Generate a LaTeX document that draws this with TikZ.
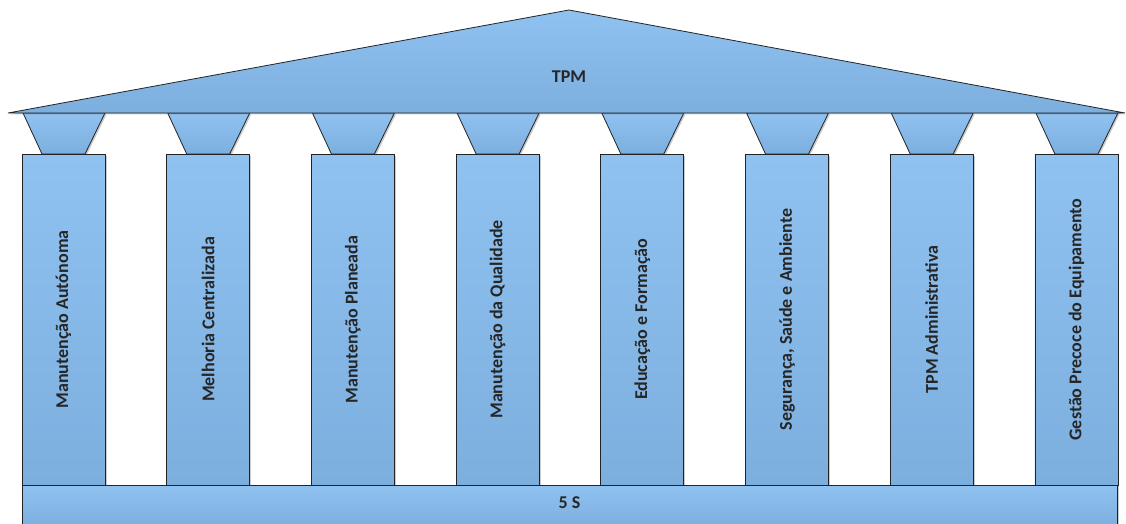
\documentclass[tikz,border=0pt]{standalone}
\usepackage{fontspec}
\setmainfont{Carlito}
\usetikzlibrary{shadows}
\definecolor{bluelight}{RGB}{143,194,241}
\definecolor{bluedark}{RGB}{124,174,222}
\definecolor{edgecol}{RGB}{35,35,35}
\begin{document}
\begin{tikzpicture}[x=1pt,y=-1pt,
  part/.style={draw=edgecol, line width=0.8pt, top color=bluelight, bottom color=bluedark,
    drop shadow={shadow xshift=1.5pt, shadow yshift=-1.5pt, opacity=0.35, fill=black!60}},
  pillar/.style={part, minimum width=83pt, minimum height=331pt, inner sep=0pt},
  lbl/.style={font=\bfseries\fontsize{18}{21}\selectfont, text=black!85, inner sep=0pt}]
\useasboundingbox (0,0) rectangle (1126,524);
% capitals
\foreach \i in {0,...,7}{
  \pgfmathsetmacro{\xo}{22+144.7*\i}
  \path[part] (\xo+1,113) -- (\xo+83,113) -- (\xo+63,154) -- (\xo+20,154) -- cycle;
}
% roof
\path[part] (8,113) -- (569,10) -- (1125,113) -- cycle;
\node[lbl] (tpm) at (569,77) {TPM};
% pillars
\foreach \i/\t in {0/{Manutenção Autónoma},1/{Melhoria Centralizada},2/{Manutenção Planeada},
  3/{Manutenção da Qualidade},4/{Educação e Formação},5/{Segurança, Saúde e Ambiente},
  6/{TPM Administrativa},7/{Gestão Precoce do Equipamento}}{
  \pgfmathsetmacro{\xc}{22+144.7*\i+41.5}
  \node[pillar] (p\i) at (\xc,319.5) {};
  \node[lbl, rotate=90] (t\i) at (p\i.center) {\t};
}
% base
\node[part, minimum width=1095pt, minimum height=42pt, inner sep=0pt] (base) at (569.5,506) {};
\node[lbl] (fives) at (569.5,503) {5 S};
\end{tikzpicture}
\end{document}
